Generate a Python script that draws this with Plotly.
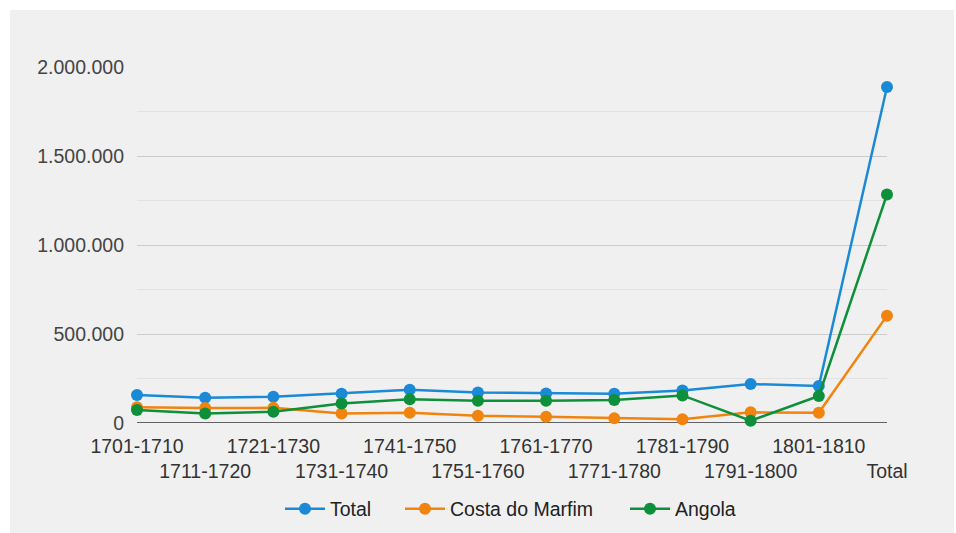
import plotly.graph_objects as go

categories = ["1701-1710", "1711-1720", "1721-1730", "1731-1740", "1741-1750", "1751-1760",
              "1761-1770", "1771-1780", "1781-1790", "1791-1800", "1801-1810", "Total"]
total = [157000, 142000, 147000, 165000, 187000, 171000, 166000, 164000, 182000, 219000, 208000, 1888000]
costa = [88000, 84000, 85000, 54000, 58000, 41000, 35000, 26000, 21000, 60000, 58000, 603000]
angola = [73000, 54000, 63000, 110000, 133000, 125000, 125000, 129000, 155000, 13000, 152000, 1284000]
y_ticks = [0, 500000, 1000000, 1500000, 2000000]
y_tick_labels = ["0", "500.000", "1.000.000", "1.500.000", "2.000.000"]

W, H = 956, 533
L, T = 137, 67
R = W - 887
B = H - 423
pw, ph = W - L - R, H - T - B

FS = 19.5


def px_x(x):
    return (x - L) / pw


def px_y(y):
    return 1 - (y - T) / ph


fig = go.Figure()
series = [("Total", total, "#1a8ad6", "legend", 280),
          ("Costa do Marfim", costa, "#f0840f", "legend2", 400),
          ("Angola", angola, "#0e8f3a", "legend3", 625)]
xs = list(range(len(categories)))
for name, vals, col, lg, _ in series:
    fig.add_trace(go.Scatter(x=xs, y=vals, name=name, mode="lines+markers",
                             line=dict(color=col, width=2.5),
                             marker=dict(color=col, size=12),
                             cliponaxis=False, legend=lg))

ticktext = [c if i % 2 == 0 else "<br>" + c for i, c in enumerate(categories)]

bg = "#f0f0f0"

legends = {}
for name, vals, col, lg, lx in series:
    legends[lg] = dict(orientation="h", x=px_x(lx), xanchor="left", y=px_y(509), yanchor="middle",
                       font=dict(size=FS, color="#222222"), itemwidth=40, bgcolor="rgba(0,0,0,0)")

fig.update_layout(
    width=W, height=H,
    margin=dict(l=L, r=R, t=T, b=B, autoexpand=False),
    paper_bgcolor=bg, plot_bgcolor=bg,
    font=dict(family="Arial, Liberation Sans, sans-serif", size=FS, color="#444444"),
    showlegend=True,
    xaxis=dict(range=[0, len(categories) - 1], tickmode="array", tickvals=xs, ticktext=ticktext,
               tickangle=0, automargin=False, ticklabelstandoff=9,
               showgrid=False, zeroline=False, showline=False, ticks="", ticklen=0,
               tickfont=dict(size=FS, color="#333333"), fixedrange=True),
    yaxis=dict(range=[0, 2000000], tickmode="array", tickvals=y_ticks, ticktext=y_tick_labels,
               automargin=False,
               showgrid=True, gridcolor="#cccccc", gridwidth=1,
               minor=dict(tickmode="array", tickvals=[250000, 750000, 1250000, 1750000],
                          showgrid=True, gridcolor="#e2e2e2", gridwidth=1),
               zeroline=False, showline=False, ticks="", ticklabelstandoff=12,
               tickfont=dict(size=FS, color="#444444")),
    shapes=[
        dict(type="line", xref="paper", yref="y", x0=0, x1=1, y0=0, y1=0,
             line=dict(color="#333333", width=1.5), layer="below"),
        dict(type="rect", xref="paper", yref="paper", x0=px_x(0), x1=px_x(W),
             y0=px_y(10), y1=px_y(0), line_width=0, fillcolor="white", layer="below"),
        dict(type="rect", xref="paper", yref="paper", x0=px_x(0), x1=px_x(10),
             y0=px_y(H), y1=px_y(0), line_width=0, fillcolor="white", layer="below"),
        dict(type="rect", xref="paper", yref="paper", x0=px_x(954), x1=px_x(W),
             y0=px_y(H), y1=px_y(0), line_width=0, fillcolor="white", layer="below"),
    ],
    **legends,
)

fig.write_html("out.html", config={"displayModeBar": False},
               post_script="document.body.style.margin='0';document.body.style.overflow='hidden';")
